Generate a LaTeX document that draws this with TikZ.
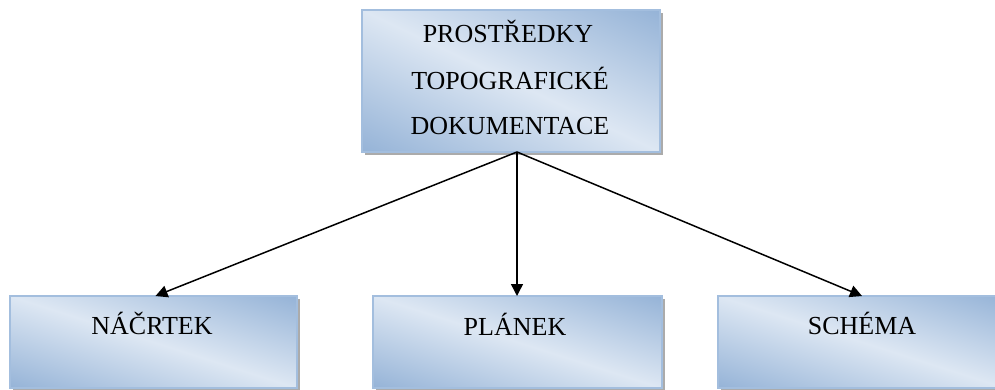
\documentclass[tikz,border=0pt]{standalone}
\usepackage{fontspec}
\setmainfont{Liberation Serif}
\usetikzlibrary{shadows,arrows.meta}
\definecolor{boxline}{RGB}{163,190,222}

% diagonal fill: light along the top-left/bottom-right diagonal,
% darker blue towards the top-right and bottom-left corners
\pgfdeclarefunctionalshading{panelfill}{\pgfpoint{-50bp}{-50bp}}{\pgfpoint{50bp}{50bp}}{}{
  add 50 div abs
  dup dup
  -0.1098 mul 0.9529 add
  exch -0.2039 mul 0.9059 add
  exch
  3 -1 roll -0.2824 mul 0.8667 add
  3 1 roll
}

\begin{document}
\begin{tikzpicture}[x=1pt,y=-1pt,
  panel/.style={draw=boxline, line width=1.2pt, inner sep=0pt, outer sep=0pt,
    shade, shading=panelfill, shading angle=0,
    drop shadow={shadow xshift=3pt, shadow yshift=-3pt, fill=black!55, opacity=0.6}},
  caption/.style={font=\fontsize{26}{30}\selectfont, anchor=base, inner sep=0pt},
  link/.style={line width=1.5pt, -{Triangle[length=12pt,width=12pt]}}]
  \useasboundingbox (0,0) rectangle (995,390);

  % boxes
  \node[panel, minimum width=298pt, minimum height=142pt] (top) at (511,81) {};
  \node[panel, minimum width=287pt, minimum height=92pt] (left) at (153.5,342) {};
  \node[panel, minimum width=289pt, minimum height=92pt] (mid) at (517.5,342) {};
  \node[panel, minimum width=288pt, minimum height=92pt] (right) at (862,342) {};

  % captions
  \node[caption] (t1) at (508,43) {PROSTŘEDKY};
  \node[caption] (t2) at (510,90) {TOPOGRAFICKÉ};
  \node[caption] (t3) at (510,135) {DOKUMENTACE};
  \node[caption] (l1) at (152,334) {NÁČRTEK};
  \node[caption] (m1) at (515,335) {PLÁNEK};
  \node[caption] (r1) at (862,334) {SCHÉMA};

  % connectors
  \coordinate (src) at ([xshift=6pt]top.south);
  \draw[link] (src) -- ([xshift=2pt]left.north);
  \draw[link] (src) -- (src |- mid.north);
  \draw[link] (src) -- (right.north);
\end{tikzpicture}
\end{document}
